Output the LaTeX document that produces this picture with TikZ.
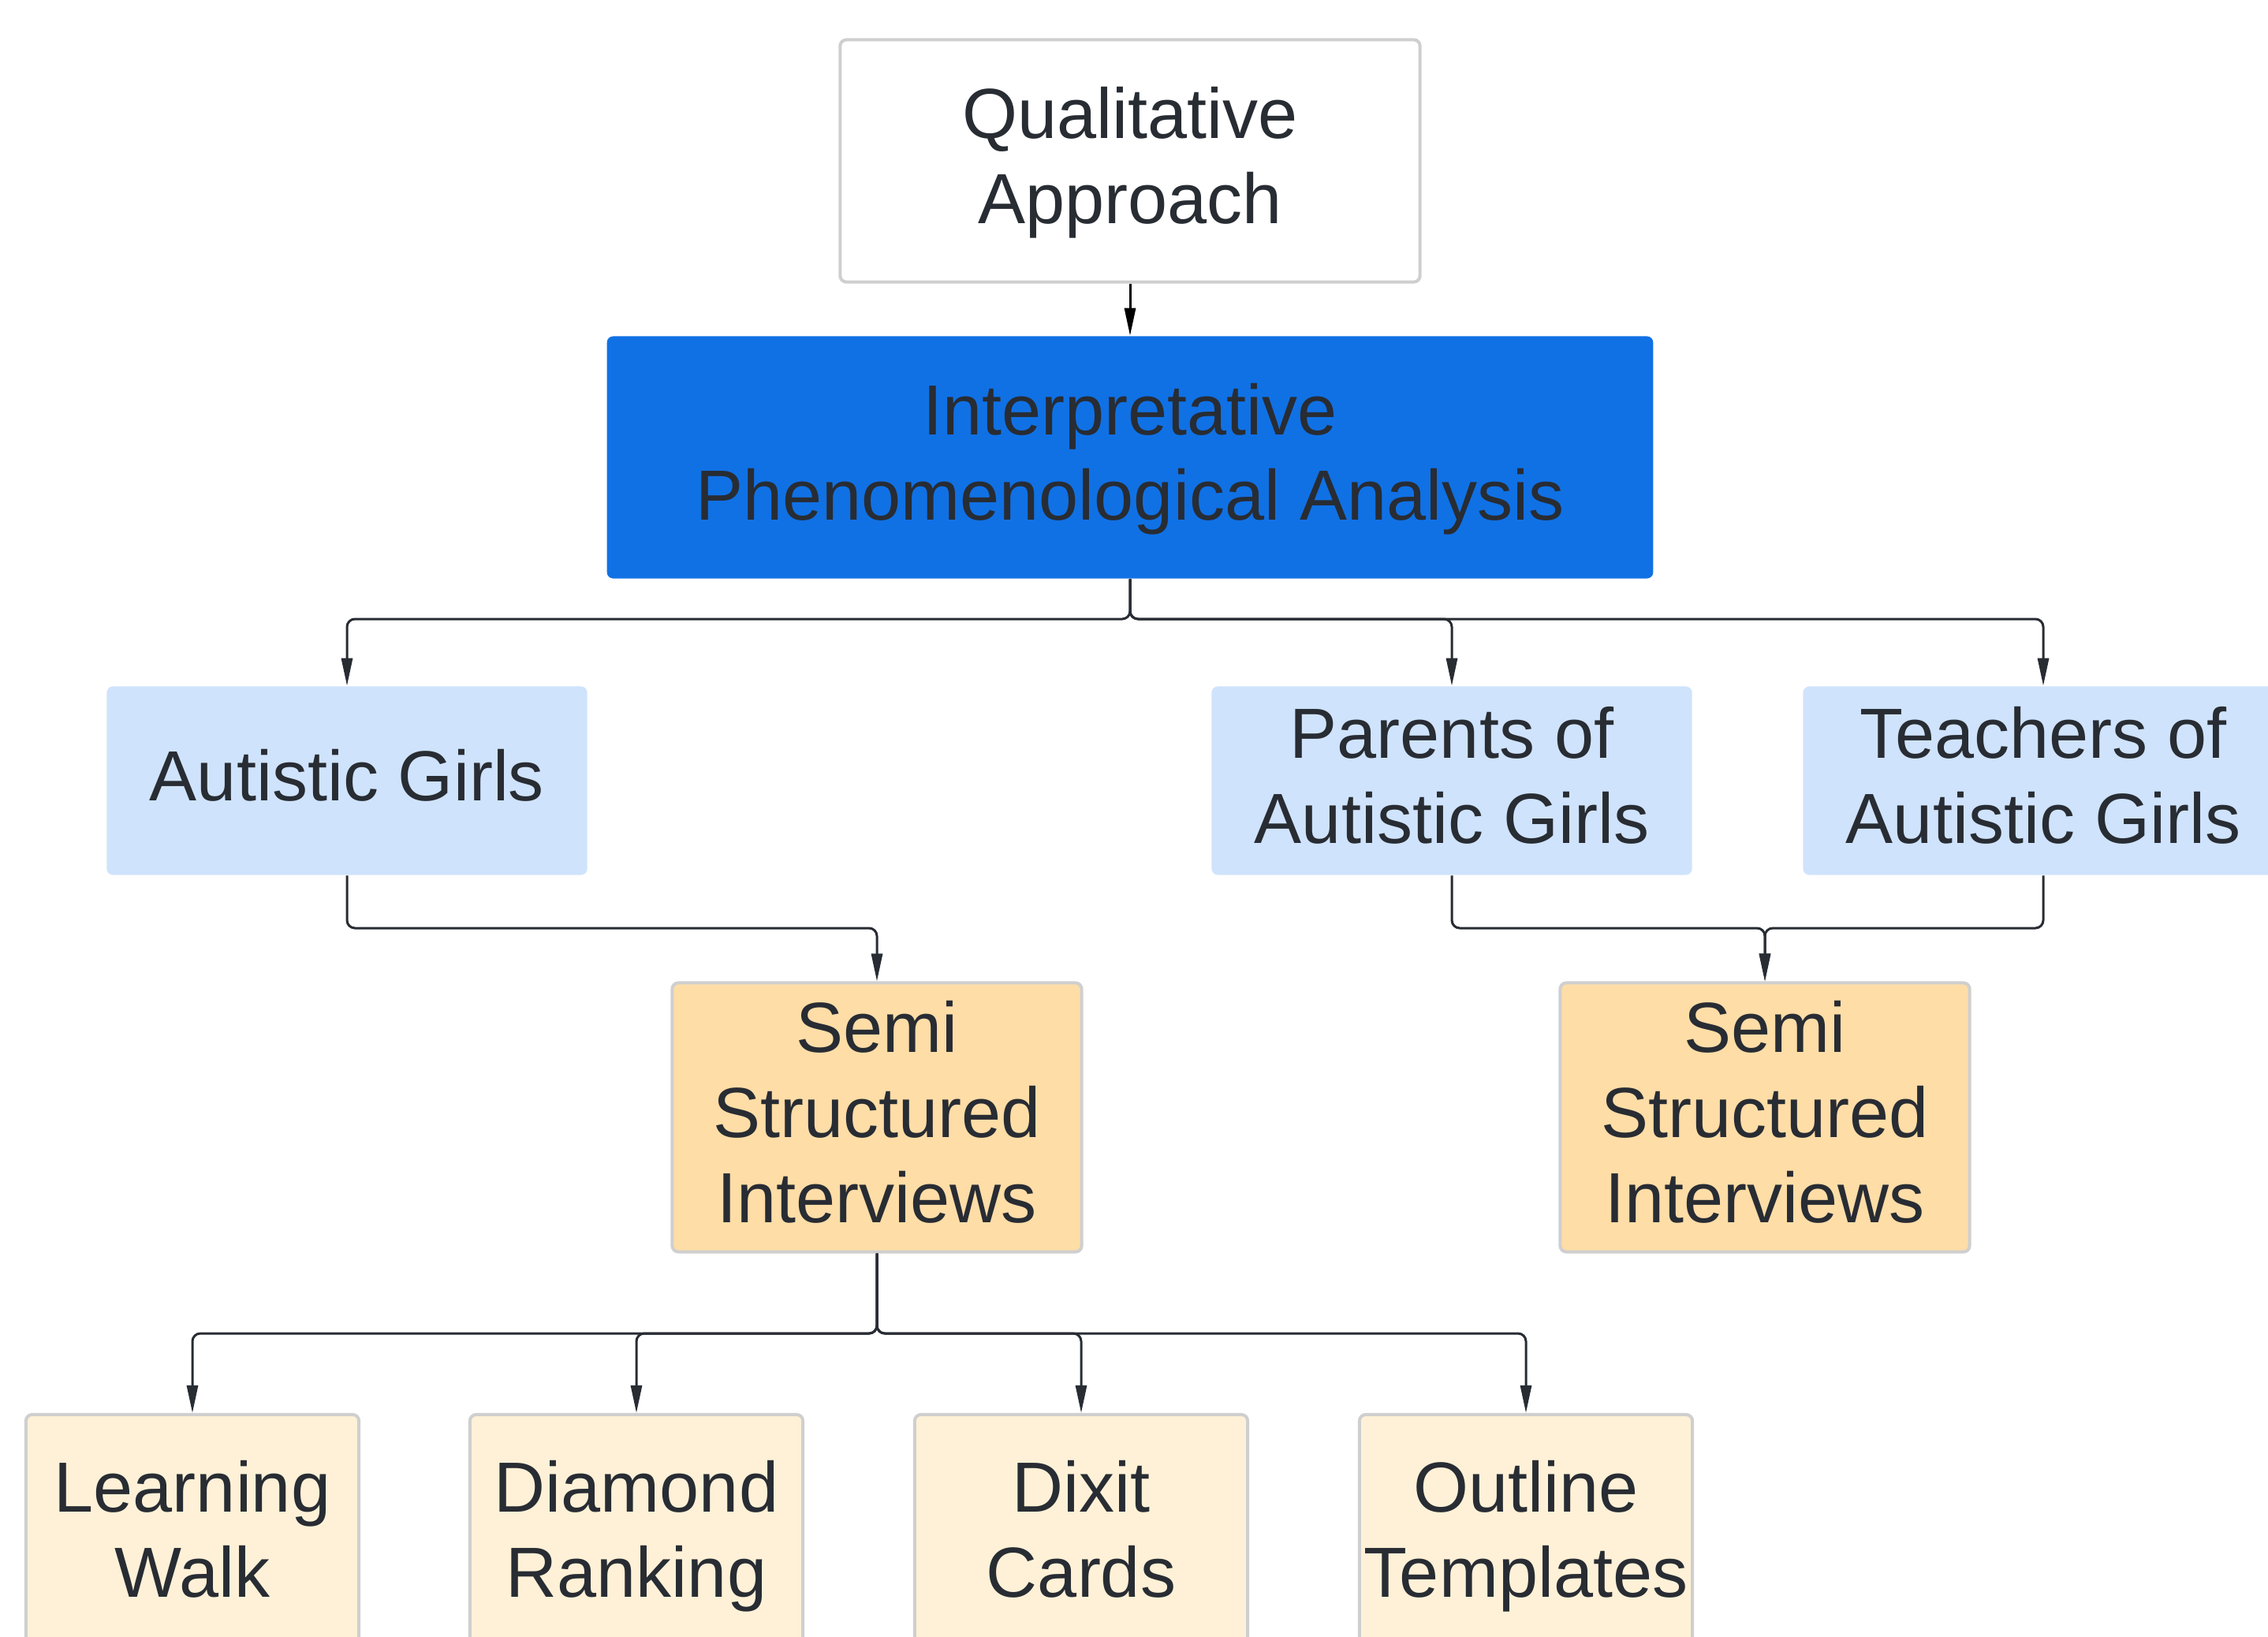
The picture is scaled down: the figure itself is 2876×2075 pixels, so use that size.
\documentclass[tikz,border=0pt]{standalone}
\usepackage{fontspec}
\setmainfont{Liberation Sans}
\usetikzlibrary{arrows.meta}
\definecolor{ink}{HTML}{282C33}
\definecolor{edgegray}{HTML}{CFCFCF}
\definecolor{ipablue}{HTML}{1071E5}
\definecolor{paleblue}{HTML}{CFE3FC}
\definecolor{sand}{HTML}{FEDDA7}
\definecolor{cream}{HTML}{FFF1D7}
% fixed line strut so every label line sits on the same grid
\newcommand{\lstrut}{\vrule height 0.79cm depth 0.28cm width 0pt}
\begin{document}
\begin{tikzpicture}[x=0.01cm,y=-0.01cm,
  box/.style={rectangle, rounded corners=0.08cm, inner sep=0pt, align=center,
    text=ink, font=\fontsize{25.6pt}{30.8pt}\selectfont},
  plainbox/.style={box, draw=edgegray, line width=0.04cm, fill=white},
  ipabox/.style={box, fill=ipablue},
  groupbox/.style={box, fill=paleblue, minimum width=6.09cm, minimum height=2.39cm},
  interviewbox/.style={box, draw=edgegray, line width=0.04cm, fill=sand,
    minimum width=5.19cm, minimum height=3.41cm},
  toolbox/.style={box, draw=edgegray, line width=0.04cm, fill=cream,
    minimum width=4.22cm, minimum height=3.04cm},
  conn/.style={draw=ink, line width=0.03cm, rounded corners=0.1cm,
    -{Triangle[length=0.35cm,width=0.14cm]}}
]
\useasboundingbox (0,0) rectangle (2876,2075);

% top of the hierarchy
\node[plainbox, minimum width=7.35cm, minimum height=3.07cm] (qual) at (1433,204)
  {\lstrut Qualitative\\\lstrut Approach};
\node[ipabox, minimum width=13.26cm, minimum height=3.07cm] (ipa) at (1433,580)
  {\lstrut Interpretative\\\lstrut Phenomenological Analysis};

% participant groups
\node[groupbox] (girls) at (440,990) {\lstrut Autistic Girls};
\node[groupbox] (parents) at (1841,990) {\lstrut Parents of\\\lstrut Autistic Girls};
\node[groupbox] (teachers) at (2591,990) {\lstrut Teachers of\\\lstrut Autistic Girls};

% interviews
\node[interviewbox] (semiL) at (1112,1417)
  {\lstrut Semi\\\lstrut Structured\\\lstrut Interviews};
\node[interviewbox] (semiR) at (2238,1417)
  {\lstrut Semi\\\lstrut Structured\\\lstrut Interviews};

% data collection tools
\node[toolbox] (walk) at (244,1946) {\lstrut Learning\\\lstrut Walk};
\node[toolbox] (diamond) at (807,1946) {\lstrut Diamond\\\lstrut Ranking};
\node[toolbox] (dixit) at (1371,1946) {\lstrut Dixit\\\lstrut Cards};
\node[toolbox] (outline) at (1935,1946) {\lstrut Outline\\\lstrut Templates};

% connectors
\draw[conn, draw=black] (qual) -- (ipa);

\draw[conn] (ipa.south) -- (1433,785) -| (girls.north);
\draw[conn] (ipa.south) -- (1433,785) -| (parents.north);
\draw[conn] (ipa.south) -- (1433,785) -| (teachers.north);

\draw[conn] (girls.south) -- (440,1177) -| (semiL.north);
\draw[conn] (parents.south) -- (1841,1177) -| (semiR.north);
\draw[conn] (teachers.south) -- (2591,1177) -| (semiR.north);

\draw[conn] (semiL.south) -- (1112,1691) -| (walk.north);
\draw[conn] (semiL.south) -- (1112,1691) -| (diamond.north);
\draw[conn] (semiL.south) -- (1112,1691) -| (dixit.north);
\draw[conn] (semiL.south) -- (1112,1691) -| (outline.north);
\end{tikzpicture}
\end{document}
